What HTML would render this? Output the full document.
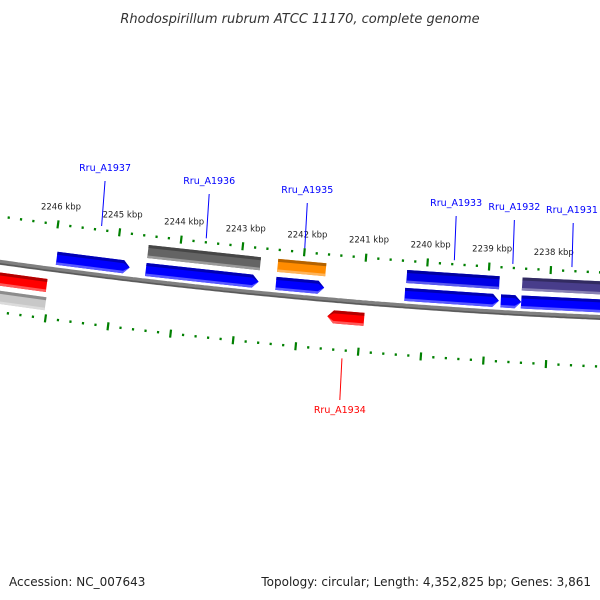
<!DOCTYPE html>
<html><head><meta charset="utf-8"><style>
html,body{margin:0;padding:0;background:#fff;}
svg{display:block;font-family:"DejaVu Sans","Liberation Sans",sans-serif;}
</style></head><body>
<svg id="chart" width="600" height="600" viewBox="0 0 600 600">
<text x="300" y="23" text-anchor="middle" font-size="13" font-style="italic" fill="#333">Rhodospirillum rubrum ATCC 11170, complete genome</text>
<g id="rings"></g>
<g id="feats"></g>
<g id="labels"></g>
<text x="9" y="586" font-size="12" fill="#222">Accession: NC_007643</text>
<text x="591" y="586" font-size="12" fill="#222" text-anchor="end">Topology: circular; Length: 4,352,825 bp; Genes: 3,861</text>
</svg>
<script>
const tickKbp=[2238,2239,2240,2241,2242,2243,2244,2245,2246];
const featStart=[2246.94,2246.9,2245.95,2244.51,2244.51,2242.41,2242.41,2241.54,2240.32,2240.33,2238.78,2238.45,2238.45];
const featEnd=[2246.05,2246.03,2244.77,2242.69,2242.69,2241.63,2241.63,2240.95,2238.82,2238.81,2238.45,2237.0,2237.0];
const featRow=[2,3,1,0,1,0,1,2,0,1,1,0,1];
const featColor=["#ff0000","#c8c8c8","#0000ff","#646464","#0000ff","#ff8c00","#0000ff","#ff0000","#0000e6","#0000ff","#0000ff","#483d8b","#0000ff"];
const featDir=[0,0,1,0,1,0,1,-1,0,1,1,0,1];
const geneNames=["Rru_A1937","Rru_A1936","Rru_A1935","Rru_A1934","Rru_A1933","Rru_A1932","Rru_A1931"];
const geneKbp=[2245.3,2243.6,2242.0,2241.25,2239.57,2238.62,2237.66];
const geneSide=[1,1,1,-1,1,1,1];
const geneLabelY=[171,184,193,413,206,210,213];

const NS="http://www.w3.org/2000/svg";
function U(k){return 58+(2246-k)*61.6;}
function S(u){return (860-u)/6000;}
function P(k,d){const u=U(k);const s=S(u);return [u-s*d,278-(u-860)*(u-860)/12000+d];}
function mk(tag,attrs,parent){const e=document.createElementNS(NS,tag);for(const a in attrs)e.setAttribute(a,attrs[a]);parent.appendChild(e);return e;}
const rings=document.getElementById('rings'),feats=document.getElementById('feats'),labels=document.getElementById('labels');

let pts=[];for(let k=2247.1;k>=2236.9;k-=0.05){const p=P(k,45);pts.push(p[0].toFixed(1)+','+p[1].toFixed(1));}
const bb=mk('polyline',{points:pts.join(' '),fill:'none',stroke:'#808080','stroke-width':5},rings);


const bb2=mk('polyline',{points:pts.join(' '),fill:'none',stroke:'#5a5a5a','stroke-width':1.5,transform:'translate(0,1.5)'},rings);



[0,94].forEach(function(d){
  for(let i=-5;i<=55;i++){
    const k=2236+i*0.2;
    const major=Math.abs(k-Math.round(k))<1e-6;
    const a=P(k,d-(major?4:1.2)),b=P(k,d+(major?4:1.2));
    const t=mk('line',{x1:a[0],y1:a[1],x2:b[0],y2:b[1],stroke:'#008000','stroke-width':2.2},rings);
    
    
  }
});
tickKbp.forEach(function(k){
  const p=P(k,0);
  const t=mk('text',{x:p[0]+3,y:p[1]-15,'font-size':8.5,'text-anchor':'middle',fill:'#222'},labels);
  t.textContent=k+' kbp';
  
  
});

const rowD=[9,27,55,73];
function shade(hex,f){const n=parseInt(hex.slice(1),16);let r=n>>16,g=(n>>8)&255,b=n&255;
 if(f<0){r*=1+f;g*=1+f;b*=1+f;}else{r+=(255-r)*f;g+=(255-g)*f;b+=(255-b)*f;}
 return 'rgb('+Math.round(r)+','+Math.round(g)+','+Math.round(b)+')';}
for(let i=0;i<featStart.length;i++){
  const d0=rowD[featRow[i]],d1=d0+13;
  const ks=featStart[i],ke=featEnd[i],dir=featDir[i];
  const ah=0.1;
  function poly(da,db){
    let q;
    if(dir===1){q=[P(ks,da),P(ke+ah,da),P(ke,d0+6.5),P(ke+ah,db),P(ks,db)];}
    else if(dir===-1){q=[P(ks-ah,da),P(ke,da),P(ke,db),P(ks-ah,db),P(ks,d0+6.5)];}
    else q=[P(ks,da),P(ke,da),P(ke,db),P(ks,db)];
    return q.map(p=>p[0].toFixed(1)+','+p[1].toFixed(1)).join(' ');
  }
  const g=mk('g',{},feats);
  
  
  mk('polygon',{points:poly(d0,d1),fill:featColor[i]},g);
  mk('polygon',{points:poly(d0,d0+3),fill:shade(featColor[i],-0.3)},g);
  mk('polygon',{points:poly(d1-2.5,d1),fill:shade(featColor[i],0.35)},g);
}

for(let i=0;i<geneNames.length;i++){
  const side=geneSide[i];
  const a=P(geneKbp[i],side>0?-4:102);
  const ly=geneLabelY[i];
  const by=side>0?ly+10:ly-13;
  const b=[a[0]+0.6*S(U(geneKbp[i]))*(a[1]-by),by];
  const col=side>0?'#0000ff':'#ff0000';
  const ln=mk('line',{x1:a[0],y1:a[1],x2:b[0],y2:b[1],stroke:col,'stroke-width':1},labels);
  
  
  const t=mk('text',{x:Math.min(b[0],572),y:ly,'font-size':9.5,'text-anchor':'middle',fill:col},labels);
  t.textContent=geneNames[i];
  
  
}
</script>
</body></html>
